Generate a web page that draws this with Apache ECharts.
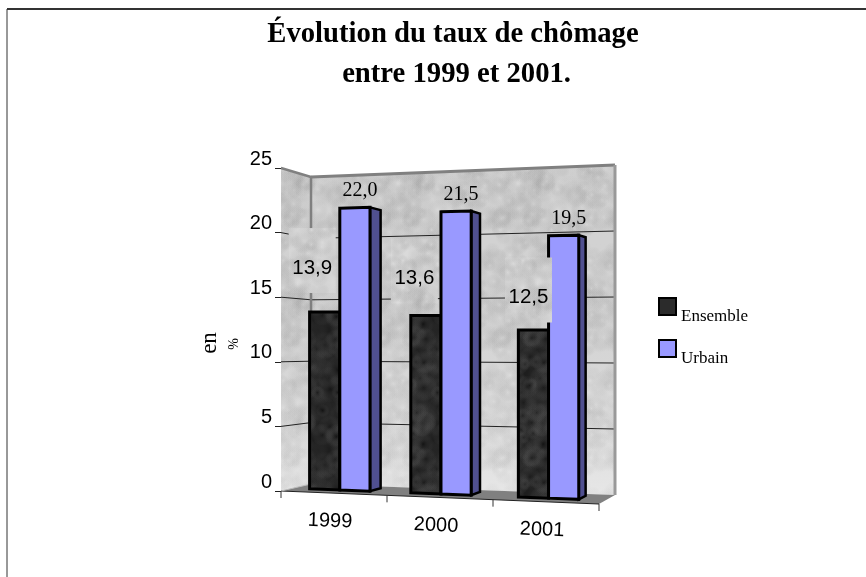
<!DOCTYPE html>
<html lang="fr">
<head>
    <meta charset="utf-8">
    <title>Évolution du taux de chômage</title>
    <script src="https://cdn.jsdelivr.net/npm/echarts@6/dist/echarts.min.js"></script>
    <style>
        html, body { margin: 0; padding: 0; background: #fff; }
        #main { width: 866px; height: 577px; }
    </style>
</head>
<body>
<div id="main"></div>
<script type="text/javascript">
    var years = ['1999', '2000', '2001'];
    var ensemble = [13.9, 13.6, 12.5];
    var urbain = [22.0, 21.5, 19.5];
    var yTicks = [0, 5, 10, 15, 20, 25];

    // flat grid, the perspective below is applied to whatever api.coord returns
    var G = { left: 281, top: 168, width: 318, height: 323 };
    var DEPTH_FACE = 0.4, DEPTH_REAR = 0.8;
    // shift of the grey patch behind each "Ensemble" label, from the bar top
    var patchShift = [[-12.5, -51.5], [-11.5, -44.5], [-5, -40]];
    // the bars are not quite evenly spaced in the picture
    var barNudge = [1, -2, 1.5];

    function lerp(a, b, k) { return a + (b - a) * k; }

    // flat pixel + depth (0 front, 1 back wall) -> page pixel
    function warp(p, d) {
        var fx = (p[0] - G.left) / G.width;
        var t = (G.top + G.height - p[1]) / G.height;
        var x = lerp(281 + 318 * fx, 311 + 304 * fx, d);
        var bottom = lerp(491 + 13 * fx, 484 + 11 * fx, d);
        var top = lerp(168 - 12 * fx, 177 - 12 * fx, d);
        return [x, lerp(bottom, top, t)];
    }

    // mottled tile for walls and dark bars
    function makeTile(base, dark, light) {
        var c = document.createElement('canvas');
        c.width = c.height = 120;
        var ctx = c.getContext('2d');
        ctx.fillStyle = base;
        ctx.fillRect(0, 0, 120, 120);
        var seed = 1234;
        function next() { seed = (seed * 16807) % 2147483647; return seed / 2147483647; }
        for (var i = 0; i < 170; i++) {
            var x = next() * 120, y = next() * 120, r = 5 + next() * 10;
            var col = next() > 0.5 ? dark : light;
            for (var ox = -120; ox <= 120; ox += 120) {
                for (var oy = -120; oy <= 120; oy += 120) {
                    var g = ctx.createRadialGradient(x + ox, y + oy, 0, x + ox, y + oy, r);
                    g.addColorStop(0, col);
                    g.addColorStop(1, 'rgba(128,128,128,0)');
                    ctx.fillStyle = g;
                    ctx.fillRect(x + ox - r, y + oy - r, r * 2, r * 2);
                }
            }
        }
        return c;
    }
    var wallFill = { image: makeTile('#dadada', 'rgba(190,190,190,0.22)', 'rgba(240,240,240,0.3)'), repeat: 'repeat' };
    var darkFill = { image: makeTile('#1e1e1e', 'rgba(5,5,5,0.4)', 'rgba(50,50,50,0.22)'), repeat: 'repeat' };

    function poly(points, style, z2) {
        return { type: 'polygon', shape: { points: points }, style: style, z2: z2 || 0, silent: true };
    }
    function line(a, b, stroke, width) {
        return { type: 'line', shape: { x1: a[0], y1: a[1], x2: b[0], y2: b[1] }, style: { stroke: stroke, lineWidth: width, fill: null }, silent: true };
    }

    function renderWalls(params, api) {
        var x0 = G.left, x1 = G.left + G.width;
        var yTop = api.coord([0, 25])[1], yBot = api.coord([0, 0])[1];
        var shade = { type: 'linear', x: 0, y: 0, x2: 0, y2: 1, colorStops: [
            { offset: 0, color: 'rgba(120,120,120,0.05)' },
            { offset: 1, color: 'rgba(255,255,255,0.35)' }
        ] };
        var a = warp([x0, yTop], 0), b = warp([x0, yTop], 1), c = warp([x1, yTop], 1);
        var d = warp([x1, yBot], 1), e = warp([x0, yBot], 1), f = warp([x0, yBot], 0), g = warp([x1, yBot], 0);
        var kids = [
            poly([a, b, e, f], { fill: wallFill }),
            poly([a, b, e, f], { fill: shade }),
            poly([b, c, d, e], { fill: wallFill }),
            poly([b, c, d, e], { fill: shade }),
            poly([f, e, d, g], { fill: '#808080' })
        ];
        yTicks.forEach(function (v) {
            if (v === 0 || v === 25) return;
            var y = api.coord([0, v])[1];
            kids.push(line(warp([x0, y], 0), warp([x0, y], 1), '#222', 1));
            kids.push(line(warp([x0, y], 1), warp([x1, y], 1), '#222', 1));
        });
        kids.push(line(a, b, '#808080', 2.5), line(b, c, '#808080', 3), line(c, d, '#999', 3), line(b, e, '#808080', 2.5));
        kids.push(line(f, g, '#222', 1.2));
        kids.push(line(e, f, '#bbb', 1));
        for (var i = 0; i <= years.length; i++) {
            var p = warp([x0 + G.width * i / years.length, yBot], 0);
            kids.push(line(p, [p[0], p[1] + 7], '#333', 1));
        }
        years.forEach(function (name, i) {
            var q = warp(api.coord([i, 0]), 0);
            kids.push({
                type: 'text', silent: true, x: q[0] - 4, y: q[1] + 28, rotation: -0.04,
                style: { text: name, fill: '#000', font: '20px "Liberation Sans"', align: 'center', verticalAlign: 'middle' }
            });
        });
        return { type: 'group', children: kids };
    }

    // side: -1 left bar of the pair, +1 right bar
    function barCorners(api, side) {
        var i = api.value(0), v = api.value(1);
        var band = api.size([1, 0])[0];
        var base = api.coord([i, 0]), top = api.coord([i, v]);
        var mid = base[0] - band * 0.06 + barNudge[i], w = band * 0.29;
        var xa = side < 0 ? mid - w : mid, xb = side < 0 ? mid : mid + w;
        return { xa: xa, xb: xb, yb: base[1], yt: top[1] };
    }

    function renderEnsemble(params, api) {
        var b = barCorners(api, -1);
        return poly([warp([b.xa, b.yt], DEPTH_FACE), warp([b.xb, b.yt], DEPTH_FACE), warp([b.xb, b.yb], DEPTH_FACE), warp([b.xa, b.yb], DEPTH_FACE)],
            { fill: darkFill, stroke: '#000', lineWidth: 3, lineJoin: 'miter' });
    }

    function renderUrbain(params, api) {
        var b = barCorners(api, 1);
        var face = [warp([b.xa, b.yt], DEPTH_FACE), warp([b.xb, b.yt], DEPTH_FACE), warp([b.xb, b.yb], DEPTH_FACE), warp([b.xa, b.yb], DEPTH_FACE)];
        var side = [face[1], warp([b.xb, b.yt], DEPTH_REAR), warp([b.xb, b.yb], DEPTH_REAR), face[2]];
        var kids = [
            poly(side, { fill: '#505090', stroke: '#000', lineWidth: 2.5, lineJoin: 'miter' }),
            poly(face, { fill: '#9999ff', stroke: '#000', lineWidth: 3, lineJoin: 'miter' }),
            { type: 'text', silent: true, x: (face[0][0] + face[1][0]) / 2 + 5, y: face[0][1] - 17,
              style: { text: api.value(1).toFixed(1).replace('.', ','), fill: '#000', font: '20px "Liberation Serif"', align: 'center', verticalAlign: 'middle' } }
        ];
        return { type: 'group', children: kids };
    }

    function renderPatches(params, api) {
        var b = barCorners(api, -1);
        var i = api.value(0);
        var t = warp([(b.xa + b.xb) / 2, b.yt], DEPTH_FACE);
        var cx = t[0] + patchShift[i][0], cy = t[1] + patchShift[i][1];
        return { type: 'group', children: [
            { type: 'rect', silent: true, shape: { x: cx - 23.5, y: cy - 32.5, width: 47, height: 65 }, style: { fill: wallFill } },
            { type: 'text', silent: true, x: cx, y: cy + 7.5,
              style: { text: api.value(1).toFixed(1).replace('.', ','), fill: '#000', font: '20.5px "Liberation Sans"', align: 'center', verticalAlign: 'middle' } }
        ] };
    }

    function pairs(values) {
        return values.map(function (v, i) { return [i, v]; });
    }

    var myChart = echarts.init(document.getElementById('main'), null, { renderer: 'canvas' });

    myChart.setOption({
        animation: false,
        backgroundColor: '#fff',
        title: {
            text: 'Évolution du taux de chômage\n entre 1999 et 2001.',
            left: 448, top: 10, textAlign: 'center',
            textStyle: { fontFamily: 'Liberation Serif', fontWeight: 'bold', fontSize: 28.7, lineHeight: 40, color: '#000' }
        },
        legend: {
            data: ['Ensemble', 'Urbain'], orient: 'vertical', left: 658, top: 297, padding: 0,
            itemWidth: 17, itemHeight: 17, itemGap: 14, icon: 'rect', selectedMode: false,
            formatter: '{t|{name}}',
            textStyle: { rich: { t: { fontFamily: 'Liberation Serif', fontSize: 17, color: '#000', padding: [20, 0, 0, 0] } } }
        },
        grid: { left: G.left, top: G.top, width: G.width, height: G.height },
        xAxis: {
            type: 'category', data: years,
            axisLine: { show: false }, axisTick: { show: false }, axisLabel: { show: false }
        },
        yAxis: {
            type: 'value', min: 0, max: 25, interval: 5,
            axisLine: { show: true, lineStyle: { color: '#555', width: 1 } },
            axisTick: { show: true, length: 6, lineStyle: { color: '#222' } },
            splitLine: { show: false },
            axisLabel: { fontFamily: 'Liberation Sans', fontSize: 20, color: '#000', margin: 9, verticalAlign: 'bottom', lineHeight: 18 }
        },
        graphic: [
            { type: 'line', silent: true, shape: { x1: 7, y1: 9, x2: 866, y2: 9 }, style: { stroke: '#333', lineWidth: 2 } },
            { type: 'line', silent: true, shape: { x1: 7, y1: 9, x2: 7, y2: 577 }, style: { stroke: '#333', lineWidth: 1 } },
            { type: 'text', silent: true, x: 210, y: 343, rotation: Math.PI / 2,
              style: { text: 'en', font: '23px "Liberation Serif"', fill: '#000', align: 'center', verticalAlign: 'middle' } },
            { type: 'text', silent: true, x: 234, y: 344, rotation: Math.PI / 2,
              style: { text: '%', font: '14px "Liberation Serif"', fill: '#000', align: 'center', verticalAlign: 'middle' } }
        ],
        series: [
            { type: 'custom', name: 'murs', silent: true, clip: false, z: 1, data: [[0, 0]], renderItem: renderWalls },
            { type: 'custom', name: 'Ensemble', silent: true, clip: false, z: 2, data: pairs(ensemble), renderItem: renderEnsemble,
              itemStyle: { color: '#2b2b2b', borderColor: '#000', borderWidth: 3 } },
            { type: 'custom', name: 'Urbain', silent: true, clip: false, z: 3, data: pairs(urbain), renderItem: renderUrbain,
              itemStyle: { color: '#9999ff', borderColor: '#000', borderWidth: 3 } },
            { type: 'custom', name: 'etiquettes', silent: true, clip: false, z: 4, data: pairs(ensemble), renderItem: renderPatches }
        ]
    });
</script>
</body>
</html>
